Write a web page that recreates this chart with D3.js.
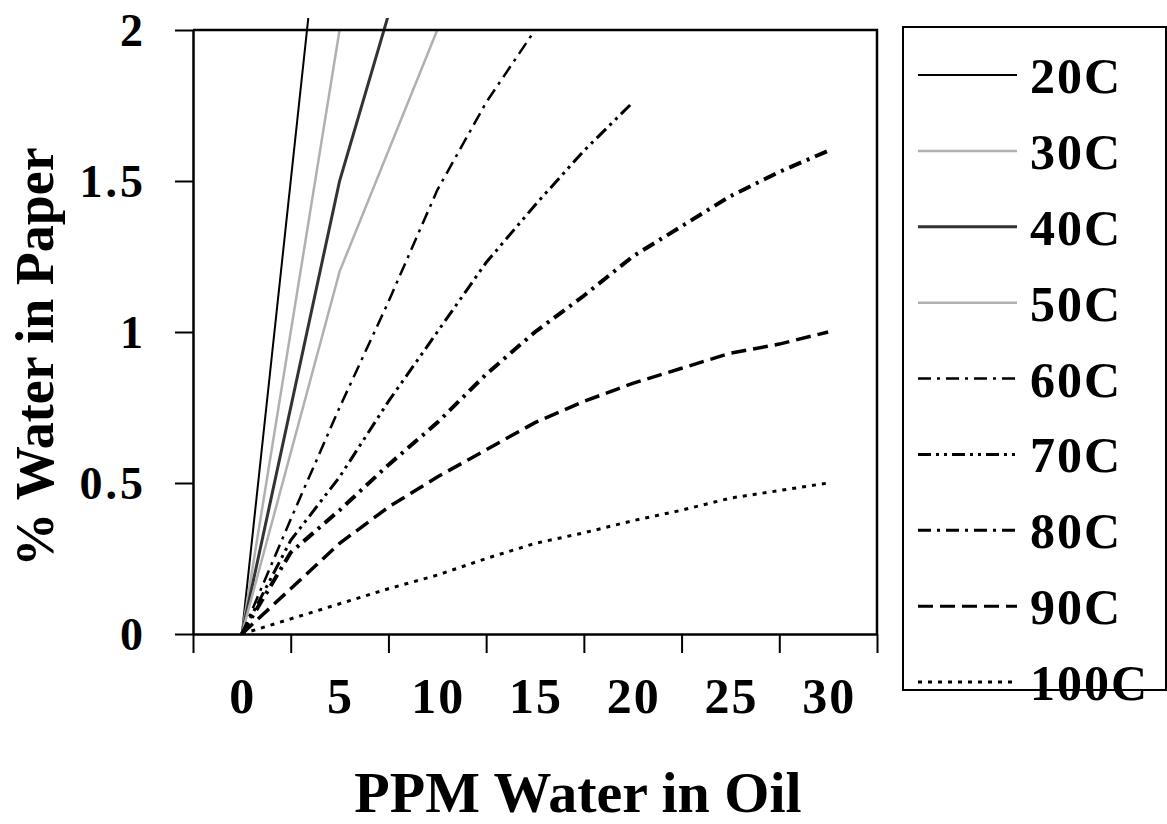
<!DOCTYPE html>
<html>
<head>
<meta charset="utf-8">
<script src="https://cdn.jsdelivr.net/npm/d3@7"></script>
<style>
  body { margin: 0; background: #fff; }
  text { font-family: "Liberation Serif", "Times New Roman", serif; font-weight: bold; fill: #000; }
</style>
</head>
<body>
<script>
var width = 1167;
var height = 824;

var margin = {top: 30, left: 193, right: 290, bottom: 190};

// ppm water in oil (x) and % water in paper (y)
var ppm = [0, 2.5, 5, 7.5, 10, 12.5, 15, 17.5, 20, 22.5, 25, 27.5, 30];
var temps = ["20C", "30C", "40C", "50C", "60C", "70C", "80C", "90C", "100C"];

var s20 = [[0, 0], [5, 3.0]];
var s30 = [[0, 0], [5, 2.0]];
var s40 = [[0, 0], [5, 1.5], [10, 2.6]];
var s50 = [[0, 0], [5, 1.2], [10, 2.0]];
var s60 = [0, 0.38, 0.75, 1.1, 1.47, 1.76, 2.0];
var s70 = [0, 0.31, 0.52, 0.77, 1.0, 1.23, 1.42, 1.6, 1.76];
var s80 = [0, 0.27, 0.41, 0.56, 0.70, 0.86, 1.0, 1.12, 1.25, 1.35, 1.45, 1.53, 1.6];
var s90 = [0, 0.15, 0.30, 0.42, 0.52, 0.61, 0.70, 0.77, 0.83, 0.88, 0.93, 0.96, 1.0];
var s100 = [0, 0.05, 0.10, 0.15, 0.195, 0.25, 0.30, 0.335, 0.375, 0.41, 0.45, 0.475, 0.5];

var xTicks = [0, 5, 10, 15, 20, 25, 30];
var yTicks = [0, 0.5, 1, 1.5, 2];

function pairs(vals) {
  return vals.map(function(v, i) { return [ppm[i], v]; });
}

var seriesData = [s20, s30, s40, s50, pairs(s60), pairs(s70), pairs(s80), pairs(s90), pairs(s100)];

var styles = [
  {color: "#000", w: 2, dash: null},
  {color: "#b0b0b0", w: 2.5, dash: null},
  {color: "#333", w: 3, dash: null},
  {color: "#b0b0b0", w: 2.5, dash: null},
  {color: "#000", w: 2.5, dash: "13,6,3,6"},
  {color: "#000", w: 3, dash: "13,5,3,5,3,5"},
  {color: "#000", w: 4, dash: "13,6,3,6"},
  {color: "#000", w: 3.5, dash: "15,7"},
  {color: "#000", w: 3, dash: "4,6"}
];

var svg = d3.select("body")
  .append("svg")
  .attr("width", width)
  .attr("height", height);

var xScale = d3.scaleLinear()
  .domain([-2.5, 32.5])
  .range([margin.left, width - margin.right]);

var yScale = d3.scaleLinear()
  .domain([0, 2])
  .range([height - margin.bottom, margin.top]);

svg.append("clipPath")
  .attr("id", "plotclip")
  .append("rect")
    .attr("x", xScale(-2.5))
    .attr("y", yScale(2.04))
    .attr("width", xScale(32.5) - xScale(-2.5))
    .attr("height", yScale(0) - yScale(2.04));

var line = d3.line()
  .x(function(d) { return xScale(d[0]); })
  .y(function(d) { return yScale(d[1]); });

svg.append("g")
  .attr("clip-path", "url(#plotclip)")
  .selectAll("path")
  .data(seriesData)
  .enter()
  .append("path")
    .attr("d", line)
    .attr("fill", "none")
    .attr("stroke", function(d, i) { return styles[i].color; })
    .attr("stroke-width", function(d, i) { return styles[i].w; })
    .attr("stroke-dasharray", function(d, i) { return styles[i].dash; });

// plot frame (top and right)
svg.append("path")
  .attr("d", "M" + xScale(-2.5) + "," + yScale(2) + "H" + xScale(32.5) + "V" + yScale(0))
  .attr("fill", "none")
  .attr("stroke", "#000")
  .attr("stroke-width", 2.5);

var xAxis = svg.append("g")
  .attr("transform", "translate(0," + yScale(0) + ")")
  .call(d3.axisBottom(xScale)
    .tickValues(d3.range(-2.5, 33, 5))
    .tickSize(19)
    .tickSizeOuter(0)
    .tickFormat(""));

var yAxis = svg.append("g")
  .attr("transform", "translate(" + xScale(-2.5) + ",0)")
  .call(d3.axisLeft(yScale)
    .tickValues(yTicks)
    .tickSize(18)
    .tickSizeOuter(0)
    .tickFormat(""));

svg.selectAll(".domain").attr("stroke-width", 2.5);
svg.selectAll(".tick line").attr("stroke-width", 2);

svg.append("g")
  .selectAll("text")
  .data(xTicks)
  .enter()
  .append("text")
    .attr("x", function(d) { return xScale(d) + 1; })
    .attr("y", 713)
    .attr("text-anchor", "middle")
    .attr("font-size", 50)
    .attr("letter-spacing", 2)
    .text(function(d) { return d; });

svg.append("g")
  .selectAll("text")
  .data(yTicks)
  .enter()
  .append("text")
    .attr("x", 146)
    .attr("y", function(d) { return yScale(d) + 16; })
    .attr("text-anchor", "end")
    .attr("font-size", 46)
    .attr("letter-spacing", 3)
    .text(function(d) { return d; });

svg.append("text")
  .attr("x", 578)
  .attr("y", 812)
  .attr("text-anchor", "middle")
  .attr("font-size", 58)
  .text("PPM Water in Oil");

svg.append("text")
  .attr("transform", "translate(53,357) rotate(-90)")
  .attr("text-anchor", "middle")
  .attr("font-size", 54)
  .text("% Water in Paper");

// legend
var legend = svg.append("g");
legend.append("rect")
  .attr("x", 903)
  .attr("y", 27)
  .attr("width", 263)
  .attr("height", 663)
  .attr("fill", "#fff")
  .attr("stroke", "#000")
  .attr("stroke-width", 2);

var rowY = d3.scaleLinear().domain([0, 8]).range([75, 682]);

var rows = legend.selectAll(".row")
  .data(temps)
  .enter()
  .append("g")
    .attr("class", "row")
    .attr("transform", function(d, i) { return "translate(0," + rowY(i) + ")"; });

rows.append("line")
  .attr("x1", 918)
  .attr("x2", 1017)
  .attr("stroke", function(d, i) { return styles[i].color; })
  .attr("stroke-width", function(d, i) { return Math.min(styles[i].w, 3); })
  .attr("stroke-dasharray", function(d, i) { return styles[i].dash; });

rows.append("text")
  .attr("x", 1030)
  .attr("y", 18)
  .attr("font-size", 50)
  .attr("letter-spacing", 2)
  .text(function(d) { return d; });
</script>
</body>
</html>
